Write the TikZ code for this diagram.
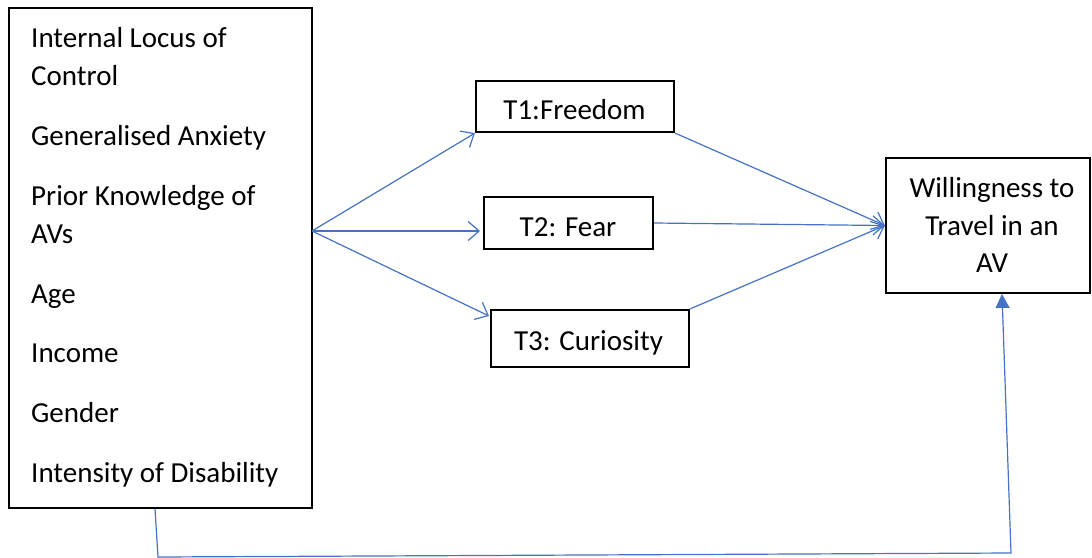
\documentclass[tikz,border=0pt]{standalone}
\usepackage{fontspec}
\setmainfont{Carlito}
\usetikzlibrary{arrows.meta}
\definecolor{arrowblue}{RGB}{68,114,196}
\begin{document}
\begin{tikzpicture}[x=1pt,y=-1pt,
  box/.style={draw=black,line width=2.2pt,inner sep=0pt},
  txt/.style={anchor=base west,inner sep=0pt,font=\fontsize{29}{38}\selectfont},
  ctxt/.style={anchor=base,inner sep=0pt,font=\fontsize{29}{38}\selectfont},
  conn/.style={draw=arrowblue,line width=1.2pt},
  openarr/.style={conn,-{Straight Barb[length=11pt,width=19pt]}},
  fillarr/.style={conn,-{Triangle[length=14pt,width=14pt]}}]
\useasboundingbox (0,0) rectangle (1092,557);

% left box
\node[box,minimum width=303pt,minimum height=500pt] (left) at (160.5,258) {};
\node[txt] (l1) at (31,47) {Internal Locus of};
\node[txt] (l2) at (31,85) {Control};
\node[txt] (l3) at (31,145) {Generalised Anxiety};
\node[txt] (l4) at (31,205) {Prior Knowledge of};
\node[txt] (l5) at (31,243) {AVs};
\node[txt] (l6) at (31,303) {Age};
\node[txt] (l7) at (31,362) {Income};
\node[txt] (l8) at (31,422) {Gender};
\node[txt] (l9) at (31,482) {Intensity of Disability};

% middle boxes
\node[box,minimum width=198pt,minimum height=51pt] (t1) at (575,106.5) {};
\node[ctxt] (t1t) at (574.5,119) {T1:Freedom};
\node[box,minimum width=169pt,minimum height=52pt] (t2) at (568.5,223) {};
\node[ctxt] (t2t) at (568,236) {T2: Fear};
\node[box,minimum width=198pt,minimum height=57pt] (t3) at (590,338.5) {};
\node[ctxt] (t3t) at (588.5,350) {T3: Curiosity};

% right box
\node[box,minimum width=204pt,minimum height=135pt] (w) at (988,225.5) {};
\node[ctxt] (w1) at (992,197) {Willingness to};
\node[ctxt] (w2) at (992,235) {Travel in an};
\node[ctxt] (w3) at (992,272) {AV};

% connector points
\coordinate (src) at (312,231);
\coordinate (t2in) at (480,231);
\coordinate (t3in) at (489,316);
\coordinate (b1) at (155,509);
\coordinate (b2) at (158,557);
\coordinate (b3) at (1011,553);
\coordinate (wbot) at (1002,294);

\draw[openarr] (src) -- (t1.south west);
\draw[openarr] (src) -- (t2in);
\draw[openarr] (src) -- (t3in);
\draw[openarr] (t1.south east) -- (w.west);
\draw[openarr] (t2.east) -- (w.west);
\draw[openarr] (t3.north east) -- (w.west);
\draw[fillarr] (b1) -- (b2) -- (b3) -- (wbot);
\end{tikzpicture}
\end{document}
